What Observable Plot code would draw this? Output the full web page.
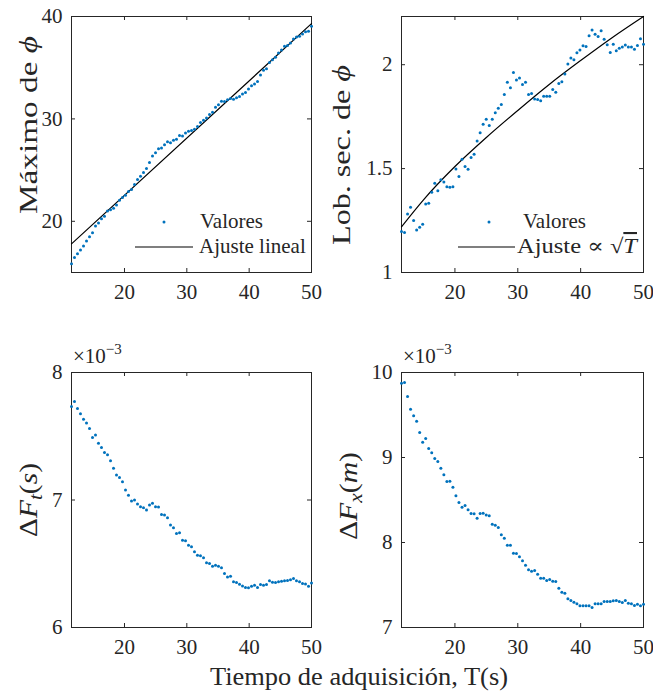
<!DOCTYPE html>
<html><head><meta charset="utf-8">
<script src="https://cdn.jsdelivr.net/npm/d3@7"></script>
<script src="https://cdn.jsdelivr.net/npm/@observablehq/plot@0.6"></script>
<style>
body{margin:0;background:#fff;}
#wrap{position:relative;width:653px;height:698px;font-family:"Liberation Serif",serif;color:#262626;}
.panel{position:absolute;}
</style></head><body>
<div id="wrap"></div>
<script>
// Acquisition time T (s)
const T = [11.50,11.98,12.46,12.94,13.43,13.91,14.39,14.87,15.35,15.83,
16.31,16.79,17.28,17.76,18.24,18.72,19.20,19.68,20.16,20.64,
21.13,21.61,22.09,22.57,23.05,23.53,24.01,24.49,24.98,25.46,
25.94,26.42,26.90,27.38,27.86,28.34,28.83,29.31,29.79,30.27,
30.75,31.23,31.71,32.19,32.68,33.16,33.64,34.12,34.60,35.08,
35.56,36.04,36.53,37.01,37.49,37.97,38.45,38.93,39.41,39.89,
40.38,40.86,41.34,41.82,42.30,42.78,43.26,43.74,44.23,44.71,
45.19,45.67,46.15,46.63,47.11,47.59,48.08,48.56,49.04,49.52,50.00];
// Máximo de phi
const maxPhi = [15.85,16.47,16.83,17.19,17.58,18.07,18.50,18.89,19.54,19.84,
20.26,20.49,21.01,21.14,21.27,21.60,22.06,22.32,22.55,22.91,
23.10,23.59,24.08,24.41,24.77,25.16,25.75,26.37,26.70,27.09,
27.16,27.48,27.78,27.68,27.91,28.01,28.37,28.33,28.63,28.79,
28.86,28.99,29.25,29.64,29.87,30.10,30.42,30.65,31.14,31.37,
31.73,31.70,31.86,31.99,31.93,32.06,32.19,32.42,32.58,32.91,
33.24,33.40,33.66,34.28,34.74,34.90,35.52,35.78,36.01,36.44,
36.73,37.09,37.16,37.42,37.81,38.01,38.07,38.30,38.50,38.56,39.05];
// Lob. sec. de phi
const lobSec = [1.197,1.192,1.282,1.314,1.250,1.205,1.218,1.232,1.330,1.333,
1.386,1.429,1.393,1.446,1.436,1.413,1.410,1.413,1.498,1.462,
1.545,1.510,1.497,1.554,1.569,1.633,1.673,1.713,1.737,1.707,
1.737,1.769,1.790,1.808,1.857,1.915,1.889,1.963,1.926,1.936,
1.905,1.915,1.857,1.862,1.835,1.833,1.827,1.848,1.848,1.848,
1.881,1.867,1.910,1.918,1.955,2.003,2.032,2.024,2.058,2.071,
2.091,2.088,2.139,2.167,2.147,2.136,2.163,2.122,2.096,2.059,
2.098,2.067,2.079,2.085,2.095,2.085,2.085,2.074,2.093,2.125,2.098];
// Delta F_t(s), units of 1e-3
const dFt = [7.734,7.773,7.718,7.676,7.634,7.603,7.561,7.490,7.509,7.446,
7.412,7.372,7.354,7.307,7.249,7.197,7.176,7.144,7.079,7.037,
6.992,7.000,6.969,6.948,6.940,6.921,6.961,6.974,6.948,6.945,
6.887,6.882,6.861,6.803,6.782,6.738,6.743,6.685,6.680,6.646,
6.633,6.594,6.567,6.562,6.547,6.507,6.502,6.481,6.489,6.481,
6.468,6.423,6.397,6.402,6.358,6.353,6.339,6.326,6.313,6.311,
6.324,6.332,6.313,6.337,6.332,6.337,6.366,6.355,6.353,6.358,
6.363,6.366,6.368,6.374,6.384,6.366,6.358,6.345,6.342,6.324,6.350];
// Delta F_x(m), units of 1e-3
const dFx = [9.875,9.882,9.718,9.569,9.490,9.427,9.294,9.180,9.224,9.106,
9.055,8.988,8.953,8.875,8.796,8.718,8.722,8.651,8.549,8.471,
8.416,8.435,8.384,8.341,8.337,8.286,8.341,8.345,8.325,8.314,
8.216,8.204,8.176,8.090,8.051,7.969,7.969,7.875,7.871,7.831,
7.784,7.733,7.678,7.663,7.671,7.627,7.580,7.580,7.553,7.565,
7.545,7.541,7.463,7.416,7.404,7.337,7.318,7.298,7.278,7.255,
7.255,7.255,7.255,7.235,7.278,7.278,7.278,7.306,7.306,7.306,
7.314,7.318,7.306,7.294,7.318,7.286,7.278,7.259,7.275,7.255,7.275];
// Fits
const linFitT = [11.5, 50];
const linFitY = [17.8, 39.3];
const sqrtFitT = [11.5, 15, 20, 25, 30, 35, 40, 45, 50];
const sqrtFitY = [1.22, 1.35, 1.51, 1.65, 1.78, 1.905, 2.02, 2.13, 2.232];
// Ticks
const xTicks = [20, 30, 40, 50];
const yTicks1 = [20, 30, 40];
const yTicks2 = [1, 1.5, 2];
const yTicks3 = [6, 7, 8];
const yTicks4 = [7, 8, 9, 10];

const BLUE = "#0072BD", AX = "#262626", FONT = "'Liberation Serif', 'DejaVu Serif', serif";
const xDomain = [11.5, 50];
const wrap = document.getElementById("wrap");
const fmt = d => String(d);

function txt(sel, x, y, size) {
  return sel.append("text").attr("x", x).attr("y", y)
    .attr("text-anchor", "start")
    .style("font-family", FONT).style("font-size", size + "px").attr("fill", AX);
}

function panel(o) {
  const rows = T.map((t, i) => ({T: t, v: o.values[i]}));
  const ih = o.H - o.mT - o.mB, iw = o.W - o.mL - o.mR, tl = 4;
  const marks = [
    Plot.frame({stroke: AX, strokeWidth: 1}),
    Plot.axisX(xTicks, {tickSize: 0, tickPadding: 12, label: null, fontSize: 21, tickFormat: fmt}),
    Plot.axisY(o.yTicks, {tickSize: 0, tickPadding: 9, label: null, fontSize: 21, tickFormat: fmt}),
    Plot.tickX(xTicks, {x: d => d, insetTop: ih - tl, stroke: AX}),
    Plot.tickX(xTicks, {x: d => d, insetBottom: ih - tl, stroke: AX}),
    Plot.tickY(o.yTicks, {y: d => d, insetRight: iw - tl, stroke: AX}),
    Plot.tickY(o.yTicks, {y: d => d, insetLeft: iw - tl, stroke: AX})
  ];
  if (o.fitT) {
    const fit = o.fitT.map((t, i) => ({T: t, v: o.fitY[i]}));
    marks.push(Plot.line(fit, {x: "T", y: "v", stroke: "black", strokeWidth: 1.2, curve: "monotone-x"}));
  }
  marks.push(Plot.dot(rows, {x: "T", y: "v", r: 1.5, fill: BLUE, stroke: null}));
  const svg = Plot.plot({
    width: o.W, height: o.H,
    marginLeft: o.mL, marginRight: o.mR, marginTop: o.mT, marginBottom: o.mB,
    x: {domain: xDomain},
    y: {domain: o.yDomain},
    style: {fontFamily: FONT, fontSize: "21px", color: AX, background: "transparent", overflow: "visible"},
    marks
  });
  svg.classList.add("panel");
  svg.style.left = o.left + "px";
  svg.style.top = o.top + "px";
  const s = d3.select(svg);
  // y label
  const lab = s.append("text")
    .attr("transform", `translate(${o.labX},${o.labY}) rotate(-90)`)
    .attr("text-anchor", "middle")
    .style("font-family", FONT).style("font-size", "25px").attr("fill", AX)
    .attr("textLength", o.labLen).attr("lengthAdjust", "spacingAndGlyphs");
  o.label(lab);
  if (o.mult) {
    const m = txt(s, o.mult[0], o.mult[1], 21);
    m.append("tspan").text("×10");
    m.append("tspan").attr("dy", -9).style("font-size", "15px").text("−3");
  }
  if (o.legend) o.legend(s);
  wrap.appendChild(svg);
}

function legend(s, L, line2) {
  s.append("circle").attr("cx", L.dot[0]).attr("cy", L.dot[1]).attr("r", 1.5).attr("fill", BLUE);
  txt(s, L.t1[0], L.t1[1], 21).text("Valores");
  s.append("line").attr("x1", L.ln[0]).attr("x2", L.ln[1]).attr("y1", L.ln[2]).attr("y2", L.ln[2])
    .attr("stroke", "black").attr("stroke-width", 1.2);
  line2(txt(s, L.t2[0], L.t2[1], 21));
}

panel({
  left: 0, top: 0, W: 326, H: 349, mL: 71, mR: 15, mT: 16, mB: 77,
  values: maxPhi, yDomain: [15, 40], yTicks: yTicks1,
  fitT: linFitT, fitY: linFitY,
  labX: 37, labY: 125, labLen: 178,
  label: t => { t.append("tspan").text("Máximo de "); t.append("tspan").style("font-style", "italic").text("ϕ"); },
  legend: s => legend(s, {dot: [164, 222], t1: [200, 228], ln: [135, 193, 247], t2: [199, 253]},
    t => t.text("Ajuste lineal"))
});
panel({
  left: 326, top: 0, W: 327, H: 349, mL: 75, mR: 10, mT: 16, mB: 77,
  values: lobSec, yDomain: [1, 2.232], yTicks: yTicks2,
  fitT: sqrtFitT, fitY: sqrtFitY,
  labX: 24, labY: 155, labLen: 180,
  label: t => { t.append("tspan").text("Lob. sec. de "); t.append("tspan").style("font-style", "italic").text("ϕ"); },
  legend: s => legend(s, {dot: [163, 222], t1: [197, 228], ln: [132, 189, 247], t2: [191, 253]},
    t => {
      t.attr("textLength", 120).attr("lengthAdjust", "spacingAndGlyphs");
      t.append("tspan").text("Ajuste ∝ √");
      t.append("tspan").style("font-style", "italic").style("text-decoration", "overline").text("T");
    })
});
panel({
  left: 0, top: 349, W: 326, H: 349, mL: 71, mR: 15, mT: 23, mB: 71,
  values: dFt, yDomain: [6, 8], yTicks: yTicks3,
  labX: 37, labY: 151, labLen: 74, mult: [73, 14],
  label: t => {
    t.append("tspan").text("Δ");
    t.append("tspan").style("font-style", "italic").text("F");
    t.append("tspan").style("font-style", "italic").style("font-size", "18px").attr("dy", 5).text("t");
    t.append("tspan").attr("dy", -5).text("(");
    t.append("tspan").style("font-style", "italic").text("s");
    t.append("tspan").text(")");
  }
});
panel({
  left: 326, top: 349, W: 327, H: 349, mL: 75, mR: 10, mT: 23, mB: 71,
  values: dFx, yDomain: [7, 10], yTicks: yTicks4,
  labX: 31, labY: 147, labLen: 88, mult: [77, 14],
  label: t => {
    t.append("tspan").text("Δ");
    t.append("tspan").style("font-style", "italic").text("F");
    t.append("tspan").style("font-style", "italic").style("font-size", "18px").attr("dy", 5).text("x");
    t.append("tspan").attr("dy", -5).text("(");
    t.append("tspan").style("font-style", "italic").text("m");
    t.append("tspan").text(")");
  }
});

// shared x-axis title
const xs = d3.select(wrap).append("svg").attr("class", "panel")
  .style("left", "0px").style("top", "655px").attr("width", 653).attr("height", 43);
xs.append("text").attr("x", 359).attr("y", 30).attr("text-anchor", "middle")
  .attr("textLength", 298).attr("lengthAdjust", "spacingAndGlyphs")
  .style("font-family", FONT).style("font-size", "25px").attr("fill", AX)
  .text("Tiempo de adquisición, T(s)");
</script>
</body></html>
